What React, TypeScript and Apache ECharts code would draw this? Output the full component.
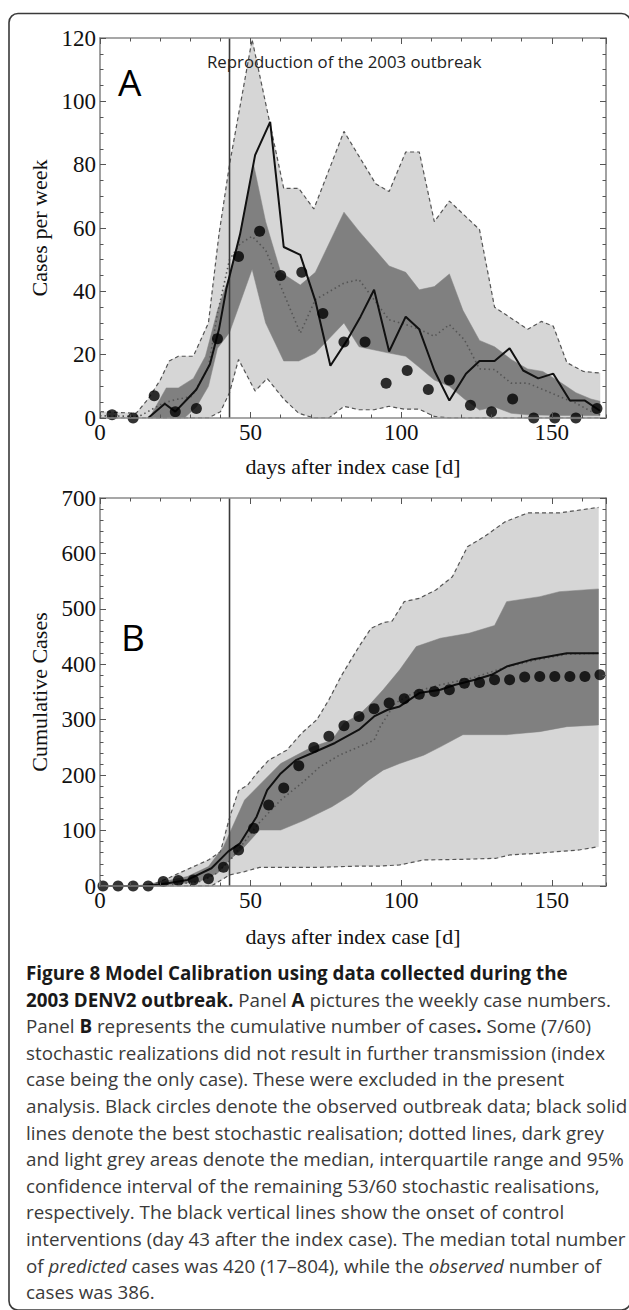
import React, { useEffect, useRef } from "react";
import * as echarts from "echarts";

// ---------- data ----------
const controlDay = 43;
const dayMax = 168;

// Panel A: weekly cases
const weeklyObsDays = [4, 11, 18, 25, 32, 39, 46, 53, 60, 67, 74, 81, 88, 95, 102, 109, 116, 123, 130, 137, 144, 151, 158, 165];
const weeklyObs = [1, 0, 7, 2, 3, 25, 51, 59, 45, 46, 33, 24, 24, 11, 15, 9, 12, 4, 2, 6, 0, 0, 0, 3];

const weeklyBest = [
  [16, 0], [21.5, 4.5], [25, 2], [29, 6], [32, 9], [36.5, 17], [39.5, 28], [42, 41], [46.5, 58], [51.5, 83],
  [56.5, 93.5], [61, 54], [66.5, 51.5], [71.5, 37], [76.5, 16.5], [82, 24.5], [86.5, 32], [91, 40.5], [96, 21],
  [101.5, 32], [106, 28], [111, 15], [116, 5.5], [121.5, 14], [126, 18], [131, 18], [136, 22], [140.5, 15],
  [145.5, 12.5], [150.5, 14], [156, 5.5], [161, 5.5], [166, 2.3],
];
const weeklyMedian = [
  [0, 0.7], [13, 0.5], [21, 4.7], [25, 5.8], [30.5, 6.8], [36, 16], [39, 33], [43, 50], [46.5, 55], [50.5, 57.4],
  [55, 53], [60, 41.6], [66.5, 26.8], [71.5, 37.4], [81, 42.6], [86, 43.7], [96, 31], [101.5, 29.5], [106, 28],
  [111, 25.8], [116, 29.5], [121, 24.7], [126, 15.5], [131, 15.3], [136.5, 11], [142, 11], [147, 9], [152.5, 6.8],
  [158, 4.7], [163, 2.1], [166, 1],
];
const weeklyIqrHigh = [
  [17, 1], [22, 9.5], [26, 9.5], [31, 12.5], [35, 19.5], [39, 34], [43, 45], [46.5, 58], [51, 80], [55, 62],
  [60, 46], [66.5, 42], [71.5, 46], [81, 65], [86, 59], [96, 48], [101.5, 46], [106, 40.5], [111, 41.5],
  [116, 45.5], [120.5, 34], [126, 24.5], [131, 22.5], [136.5, 18.5], [142, 15.5], [147, 14.7], [152.5, 11.5],
  [158, 8], [163, 6], [166, 5.3],
];
const weeklyIqrLow = [
  [17, 0], [28, 0], [32, 3.5], [36, 10], [39, 22], [43, 27], [46, 35], [50.5, 47], [55, 30], [61, 18], [66, 18],
  [71.5, 20.5], [81, 30], [86, 22.5], [96, 20.5], [101.5, 19.5], [106, 16], [111, 12], [116, 10], [121, 6],
  [126, 2.5], [131, 3.5], [136.5, 1.5], [142, 1], [152, 0.8], [166, 0.8],
];
const weeklyCiHigh = [
  [0, 2], [12, 1.5], [16, 6], [20, 12], [23, 18], [26, 19.5], [31, 19.5], [36, 30], [39.5, 58], [43, 80],
  [50.5, 119.5], [61, 72.5], [66, 72.5], [71, 66], [81, 90.5], [91.5, 74], [96, 71.5], [101.5, 84], [106, 84],
  [111, 62], [116, 68.5], [126, 59.5], [131, 35], [136.5, 31.5], [142, 28], [146.5, 30.5], [150.5, 29],
  [155, 17.5], [160.5, 14.7], [166, 14.2],
];
const weeklyCiLow = [
  [0, 0], [36, 0], [40, 2], [43, 8], [46, 18.5], [51.5, 8.5], [55.5, 12.5], [61, 6], [66, 1.5], [71, 0], [76, 0],
  [81, 3.7], [86, 2.6], [91, 2.6], [96, 3.7], [101, 2.8], [106, 2.8], [111, 0.5], [116, 0], [166, 0],
];

// Panel B: cumulative cases
const cumObsDays = [1, 6, 11, 16, 21, 26, 31, 36, 41, 46, 51, 56, 61, 66, 71, 76, 81, 86, 91, 96, 101, 106, 111, 116, 121, 126, 131, 136, 141, 146, 151, 156, 161, 166];
const cumObs = [0, 0, 0, 0, 8, 10, 11, 13, 34, 65, 104, 146, 177, 217, 250, 270, 289, 306, 320, 330, 338, 346, 351, 354, 366, 367, 372, 372, 377, 378, 378, 378, 378, 381];

const cumBest = [
  [0, 0], [16, 0], [22.5, 5], [29, 11], [37, 32], [42.5, 62], [46.5, 77], [52, 125], [55.5, 173], [60, 203],
  [65, 227], [70.5, 240], [78, 258], [86, 282], [91, 306], [95.5, 318], [99.5, 324], [106, 348], [113, 354],
  [118, 363], [124.5, 372], [130, 381], [135, 396], [143, 408], [155, 420], [165.5, 420],
];
const cumMedian = [
  [0, 0], [15, 0], [25, 3], [33, 8], [38, 20], [43, 45], [48, 80], [53, 115], [60, 155], [67.5, 188], [73, 215],
  [79.5, 236], [91, 263], [93, 287], [98, 330], [105, 351], [113, 363], [123.5, 375], [135, 395], [145, 408],
  [155, 418], [165.5, 420],
];
const cumIqrHigh = [
  [0, 0], [12, 0], [21, 8], [29, 17], [36, 35], [41, 71], [45, 119], [48, 155], [54.5, 191], [60, 221],
  [70.5, 251], [77, 263], [81, 294], [86, 309], [90, 330], [94, 354], [99.5, 390], [105, 432], [113, 447],
  [122.5, 456], [131, 470], [135, 513], [146, 522], [152.5, 531], [165.5, 536],
];
const cumIqrLow = [
  [0, 0], [20, 0], [33, 8], [39, 23], [43, 47], [48, 71], [53, 101], [60, 101], [68, 119], [77, 143],
  [83.5, 165], [89, 190], [94, 209], [99.5, 221], [107.5, 236], [113, 251], [120.5, 273], [135, 273],
  [146, 278.5], [155, 287.5], [165.5, 290.5],
];
const cumCiHigh = [
  [0, 0], [15, 0], [18, 4], [23, 15], [29, 30], [36, 47], [40, 62], [43, 123], [46, 172], [49, 182], [52, 203],
  [56, 227], [62, 245], [67, 276], [72, 300], [76, 336], [80, 378], [86, 432], [90, 465], [94, 475], [97, 478],
  [101, 513], [106, 519], [111.5, 534], [117, 558], [122, 612], [127.5, 630], [134.5, 657], [142, 673],
  [152.5, 673], [165.5, 683],
];
const cumCiLow = [
  [0, 0], [37, 0], [43, 20], [48, 26], [53, 33.7], [60, 33.7], [73, 33.7], [86, 36], [93, 36], [99.5, 38],
  [107.5, 47], [119.5, 48], [131.5, 50], [136, 56], [145, 59], [159, 65], [165.5, 71],
];

const xTicks = { major: 50, minor: 10 };
const yTicksA = { max: 120, major: 20, minor: 5 };
const yTicksB = { max: 700, major: 100, minor: 20 };

const captionLines = [
  "{b|Figure 8 Model Calibration using data collected during the}",
  "{b|2003 DENV2 outbreak.} Panel {b|A} pictures the weekly case numbers.",
  "Panel {b|B} represents the cumulative number of cases{b|.} Some (7/60)",
  "stochastic realizations did not result in further transmission (index",
  "case being the only case). These were excluded in the present",
  "analysis. Black circles denote the observed outbreak data; black solid",
  "lines denote the best stochastic realisation; dotted lines, dark grey",
  "and light grey areas denote the median, interquartile range and 95%",
  "confidence interval of the remaining 53/60 stochastic realisations,",
  "respectively. The black vertical lines show the onset of control",
  "interventions (day 43 after the index case). The median total number",
  "of {i|predicted} cases was 420 (17–804), while the {i|observed} number of",
  "cases was 386.",
];

// ---------- styles ----------
const SERIF = "'Liberation Serif', 'Times New Roman', serif";
const SANS = "'Open Sans', 'Noto Sans', sans-serif";
const LIGHT = "#d6d6d6";
const DARK = "#808080";
const FRAME = "#8a8a8a";
const TICK = "#555";
const CAP = 18.8;

function axesFor(gi: number, kind: "x" | "y", max: number, major: number, minor: number, name: string, nameGap: number) {
  const isX = kind === "x";
  const mainPos = isX ? "bottom" : "left";
  const oppPos = isX ? "top" : "right";
  const base = {
    gridIndex: gi,
    type: "value",
    min: 0,
    max,
    splitLine: { show: false },
    z: 10,
  };
  const lineOn = { show: true, onZero: false, lineStyle: { color: FRAME, width: 1.6 } };
  const lineOff = { show: false, onZero: false };
  return [
    {
      ...base,
      position: mainPos,
      interval: major,
      axisLine: lineOn,
      axisTick: { show: true, inside: true, length: 6, lineStyle: { color: TICK, width: 1 } },
      axisLabel: {
        show: true,
        showMaxLabel: max % major === 0,
        fontFamily: SERIF,
        fontSize: 23,
        color: "#111",
        margin: isX ? 3 : 4,
      },
      name,
      nameLocation: "middle",
      nameGap,
      nameRotate: isX ? 0 : 90,
      nameTextStyle: { fontFamily: SERIF, fontSize: 22, color: "#111" },
    },
    {
      ...base,
      position: mainPos,
      interval: minor,
      axisLine: lineOff,
      axisTick: { show: true, inside: true, length: 3.5, lineStyle: { color: TICK, width: 1 } },
      axisLabel: { show: false },
    },
    {
      ...base,
      position: oppPos,
      interval: major,
      axisLine: lineOn,
      axisTick: { show: true, inside: true, length: 6, lineStyle: { color: TICK, width: 1 } },
      axisLabel: { show: false },
    },
    {
      ...base,
      position: oppPos,
      interval: minor,
      axisLine: lineOff,
      axisTick: { show: true, inside: true, length: 3.5, lineStyle: { color: TICK, width: 1 } },
      axisLabel: { show: false },
    },
  ];
}

function band(upper: number[][], lower: number[][], color: string, ai: number) {
  return {
    type: "custom",
    xAxisIndex: ai,
    yAxisIndex: ai,
    silent: true,
    z: 1,
    data: [[0, 0]],
    renderItem: (_p: any, api: any) => {
      const pts = upper.map((p) => api.coord(p)).concat(lower.slice().reverse().map((p) => api.coord(p)));
      return { type: "polygon", shape: { points: pts }, style: { fill: color, stroke: color, lineWidth: 0.5 } };
    },
  };
}

function lineS(data: number[][], ai: number, color: string, width: number, type: any, z: number) {
  return {
    type: "line",
    xAxisIndex: ai,
    yAxisIndex: ai,
    data,
    showSymbol: false,
    symbol: "none",
    silent: true,
    clip: true,
    z,
    lineStyle: { color, width, type },
  };
}

function panelSeries(
  ai: number, ciHigh: number[][], ciLow: number[][], iqrHigh: number[][], iqrLow: number[][],
  median: number[][], best: number[][], obsDays: number[], obs: number[], yMax: number,
) {
  return [
    band(ciHigh, ciLow, LIGHT, ai),
    band(iqrHigh, iqrLow, DARK, ai),
    lineS(ciHigh, ai, "#555", 1.2, [4, 3], 3),
    lineS(ciLow, ai, "#555", 1.2, [4, 3], 3),
    lineS(median, ai, "#555", 1.6, [1.5, 3], 3),
    lineS([[controlDay, 0], [controlDay, yMax]], ai, "#3a3a3a", 1.6, "solid", 4),
    lineS(best, ai, "#111", 2, "solid", 5),
    {
      type: "scatter",
      xAxisIndex: ai,
      yAxisIndex: ai,
      data: obsDays.map((d, i) => [d, obs[i]]),
      symbol: "circle",
      symbolSize: 11,
      itemStyle: { color: "#000" },
      silent: true,
      z: 6,
    },
  ];
}

export default function App() {
  const ref = useRef<HTMLDivElement>(null);
  useEffect(() => {
    if (!ref.current) return;
    const chart = echarts.init(ref.current, undefined, { renderer: "svg" });
    const xAxes = [
      ...axesFor(0, "x", dayMax, xTicks.major, xTicks.minor, "days after index case [d]", 37),
      ...axesFor(1, "x", dayMax, xTicks.major, xTicks.minor, "days after index case [d]", 39),
    ];
    const yAxes = [
      ...axesFor(0, "y", yTicksA.max, yTicksA.major, yTicksA.minor, "Cases per week", 45),
      ...axesFor(1, "y", yTicksB.max, yTicksB.major, yTicksB.minor, "Cumulative Cases", 45),
    ];
    const captionTop = 973;
    const captionStep = 26.6;
    const graphics: any[] = [
      {
        type: "rect",
        shape: { x: 9, y: 13.5, width: 621.5, height: 1296.5, r: 9 },
        style: { fill: "none", stroke: "#3a3a3a", lineWidth: 1.6 },
        silent: true,
        z: 0,
      },
      {
        type: "text",
        x: 207,
        y: 61,
        style: { text: "Reproduction of the 2003 outbreak", font: `16.8px ${SANS}`, fill: "#222", verticalAlign: "middle" },
        z: 20,
      },
      {
        type: "text",
        x: 118,
        y: 81,
        style: { text: "A", font: `37px ${SANS}`, fill: "#000", verticalAlign: "middle" },
        z: 20,
      },
      {
        type: "text",
        x: 121,
        y: 636,
        style: { text: "B", font: `37px ${SANS}`, fill: "#000", verticalAlign: "middle" },
        z: 20,
      },
      ...captionLines.map((t, i) => ({
        type: "text",
        x: 26,
        y: captionTop + i * captionStep,
        style: {
          text: t,
          font: `${CAP}px ${SANS}`,
          fill: "#3a3a3a",
          verticalAlign: "middle",
          rich: {
            b: { fontWeight: "bold", fontFamily: SANS, fontSize: CAP, fill: "#1a1a1a" },
            i: { fontStyle: "italic", fontFamily: SANS, fontSize: CAP, fill: "#3a3a3a" },
          },
        },
        z: 20,
      })),
    ];
    chart.setOption({
      animation: false,
      backgroundColor: "#fff",
      grid: [
        { left: 100, top: 38, width: 506, height: 380 },
        { left: 100, top: 498, width: 506, height: 388 },
      ],
      xAxis: xAxes,
      yAxis: yAxes,
      series: [
        ...panelSeries(0, weeklyCiHigh, weeklyCiLow, weeklyIqrHigh, weeklyIqrLow, weeklyMedian, weeklyBest, weeklyObsDays, weeklyObs, yTicksA.max),
        ...panelSeries(4, cumCiHigh, cumCiLow, cumIqrHigh, cumIqrLow, cumMedian, cumBest, cumObsDays, cumObs, yTicksB.max),
      ],
      graphic: graphics,
    });
    return () => chart.dispose();
  }, []);
  return <div ref={ref} style={{ position: "absolute", left: 0, top: 0, width: 629, height: 1310 }} />;
}
